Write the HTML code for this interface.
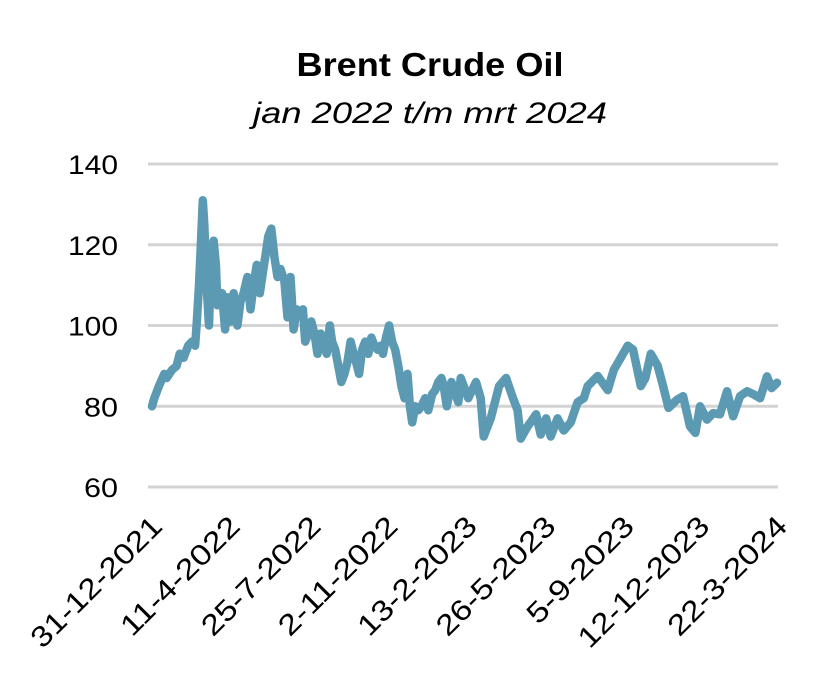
<!DOCTYPE html>
<html><head><meta charset="utf-8"><style>
body{margin:0;background:#fff;}
svg{display:block;font-family:"Liberation Sans",Calibri,sans-serif;}
</style></head><body>
<svg id="chart" width="818" height="676">
<text x="430" y="76" text-anchor="middle" font-size="33" font-weight="bold" textLength="267" lengthAdjust="spacingAndGlyphs">Brent Crude Oil</text>
<text x="430" y="123" text-anchor="middle" font-size="30" font-style="italic" textLength="354" lengthAdjust="spacingAndGlyphs">jan 2022 t/m mrt 2024</text>
<g id="grid"></g><g id="ylabels"></g><g id="xlabels"></g><g id="series"></g>
</svg>
<script>
const yTicks=[60,80,100,120,140];
const xTickDays=[0,101,206,306,409,511,613,711,812];
const xTickLabels=["31-12-2021","11-4-2022","25-7-2022","2-11-2022","13-2-2023","26-5-2023","5-9-2023","12-12-2023","22-3-2024"];
const days=[0,3,9,16,19,26,32,36,41,47,52,56,58,61,63,66,68,71,74,76,80,83,85,91,95,98,102,106,111,115,119,124,128,132,136,140,144,148,151,155,159,163,167,172,176,180,184,188,192,196,199,203,207,211,215,219,223,227,231,234,238,242,246,250,254,258,262,265,269,273,277,281,285,289,293,297,300,304,308,312,316,320,324,328,332,335,338,342,346,350,355,359,364,368,372,376,379,383,389,398,401,411,421,427,431,440,451,460,469,475,479,488,499,505,512,518,527,535,544,553,561,566,579,592,600,609,618,625,635,641,648,657,664,671,682,690,699,706,712,721,729,738,747,755,764,773,781,790,799,805,812];
const prices=[80,82,85,88,87,89,90,93,92,95,96,95,100,110,118,131,125,110,100,112,121,115,105,108,99,107,101,108,100,106,108,112,104,110,115,108,113,118,122,124,117,112,114,111,102,112,99,104,103,104,96,98,101,98,93,98,96,93,100,96,94,90,86,88,91,96,93,91,88,94,96,93,97,95,94,95,93,97,100,96,94,90,85,82,88,80,76,80,79,80,82,79,83,84,86,87,85,80,86,81,87,82,86,82,72.5,77,85,87,82,79,72,75,78,73,77,72.5,77,74,76,81,82,85,87.5,84,89,92,95,94,85,87,93,90,85,79.6,81.6,82.5,75,73.4,80,76.7,78.3,78,83.7,77.5,82.5,83.7,83,82,87.4,84.5,85.8];
const NS="http://www.w3.org/2000/svg";
const x0=152,x1=777,yTop=164,yBot=487;
function xs(d){return x0+(d-0)/(812-0)*(x1-x0);}
function ys(v){return yBot-(v-60)/(140-60)*(yBot-yTop);}
const grid=document.getElementById('grid'),yl=document.getElementById('ylabels'),xl=document.getElementById('xlabels'),se=document.getElementById('series');
yTicks.forEach(t=>{
 const l=document.createElementNS(NS,'line');
 l.setAttribute('x1',148);l.setAttribute('x2',778);l.setAttribute('y1',ys(t));l.setAttribute('y2',ys(t));
 l.setAttribute('stroke','#d3d3d3');l.setAttribute('stroke-width','3');
 
 
 grid.appendChild(l);
 const tx=document.createElementNS(NS,'text');
 tx.setAttribute('x',118);tx.setAttribute('y',ys(t)+10);tx.setAttribute('text-anchor','end');tx.setAttribute('font-size','27');
 tx.setAttribute('textLength','50');tx.setAttribute('lengthAdjust','spacingAndGlyphs');
 if(t<100){tx.setAttribute('textLength','34');}
 tx.textContent=t;
 
 
 yl.appendChild(tx);
});
xTickDays.forEach((d,i)=>{
 const px=xs(d)+12,py=528;
 const tx=document.createElementNS(NS,'text');
 tx.setAttribute('x',px);tx.setAttribute('y',py);tx.setAttribute('text-anchor','end');tx.setAttribute('font-size','29');
 tx.setAttribute('textLength',(xTickLabels[i].length*17.2).toFixed(0));tx.setAttribute('lengthAdjust','spacingAndGlyphs');
 tx.setAttribute('transform','rotate(-45 '+px+' '+py+')');
 tx.textContent=xTickLabels[i];
 
 
 xl.appendChild(tx);
});
const p=document.createElementNS(NS,'polyline');
p.setAttribute('points',days.map((d,i)=>xs(d).toFixed(1)+','+ys(prices[i]).toFixed(1)).join(' '));
p.setAttribute('fill','none');p.setAttribute('stroke','#5b9ab2');p.setAttribute('stroke-width','8.5');
p.setAttribute('stroke-linejoin','round');p.setAttribute('stroke-linecap','round');


se.appendChild(p);
</script>
</body></html>
